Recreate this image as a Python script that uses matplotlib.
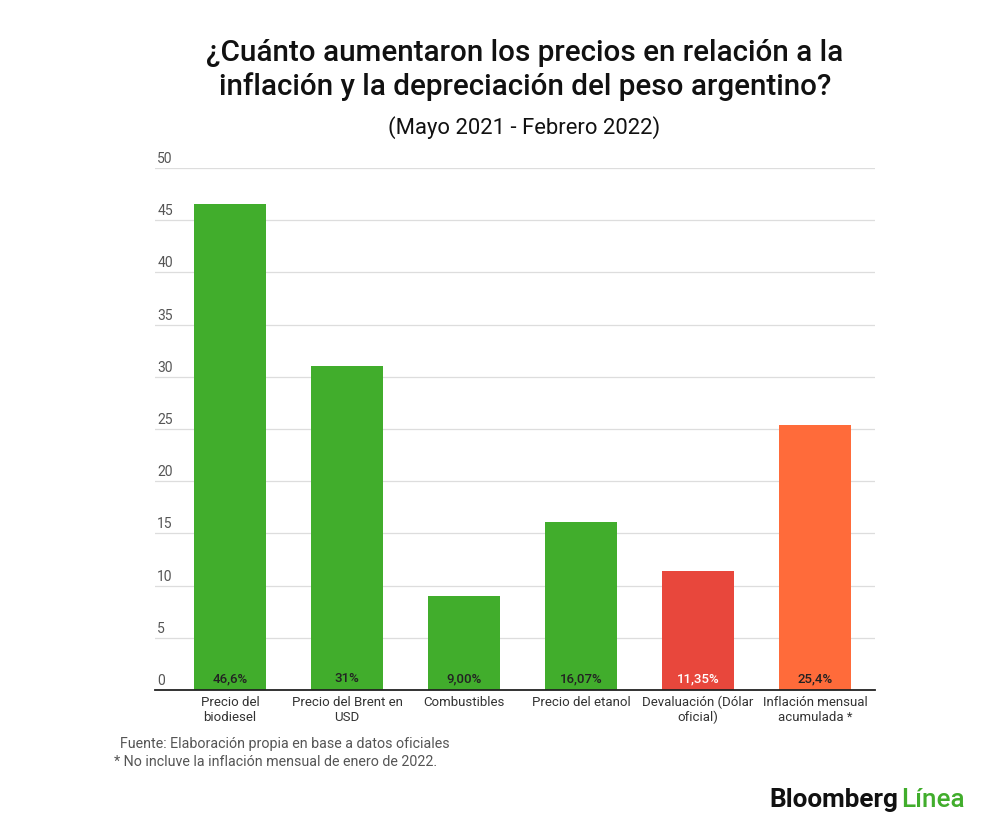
import matplotlib
matplotlib.use("Agg")
import matplotlib.pyplot as plt

# datos
categorias = ["Precio del\nbiodiesel", "Precio del Brent en\nUSD", "Combustibles",
              "Precio del etanol", "Devaluación (Dólar\noficial)", "Inflación mensual\nacumulada *"]
valores = [46.6, 31.0, 9.0, 16.07, 11.35, 25.4]
etiquetas = ["46,6%", "31%", "9,00%", "16,07%", "11,35%", "25,4%"]
colores = ["#41ad2c", "#41ad2c", "#41ad2c", "#41ad2c", "#e8473c", "#ff6b3a"]
color_texto = ["#222222", "#222222", "#222222", "#222222", "#ffffff", "#222222"]
yticks = [0, 5, 10, 15, 20, 25, 30, 35, 40, 45, 50]

plt.rcParams['font.family'] = ['Roboto', 'DejaVu Sans']

fig = plt.figure(figsize=(10, 8.31), dpi=100)
ax = fig.add_axes([0.155, 0.1697, 0.72, 0.6281])

x = list(range(len(valores)))
ax.bar(x, valores, width=0.615, color=colores, zorder=2)

ax.set_xlim(-0.641, 5.513)
ax.set_ylim(0, 50)

# lineas de la grilla + etiquetas por encima
for t in yticks[1:]:
    ax.axhline(t, color="#dddddd", lw=0.9, zorder=1)
for t in yticks:
    ax.text(0.003, t + 0.2, str(t), transform=ax.get_yaxis_transform(),
            ha="left", va="bottom", fontsize=10, color="#555555")

ax.set_yticks([])
ax.set_xticks(x)
ax.set_xticklabels(categorias, fontsize=9.5, color="#333333", linespacing=1.2)
ax.tick_params(axis="x", length=0, pad=4)

for s in ["top", "right", "left"]:
    ax.spines[s].set_visible(False)
ax.spines["bottom"].set_color("#222222")
ax.spines["bottom"].set_linewidth(1.3)
ax.spines["bottom"].set_zorder(3)

# valores dentro de las barras
for i, (lab, c) in enumerate(zip(etiquetas, color_texto)):
    ax.text(i, 0.45, lab, ha="center", va="bottom", fontsize=9.5, color=c,
            fontweight="medium", zorder=4)

fig.text(0.525, 0.916, "¿Cuánto aumentaron los precios en relación a la\ninflación y la depreciación del peso argentino?",
         ha="center", va="center", fontsize=21.3, fontweight="medium", color="#111111", linespacing=1.2)
fig.text(0.524, 0.846, "(Mayo 2021 - Febrero 2022)", ha="center", va="center",
         fontsize=15.8, color="#111111")

fig.text(0.12, 0.105, "Fuente: Elaboración propia en base a datos oficiales",
         ha="left", va="center", fontsize=10.3, color="#555555")
fig.text(0.114, 0.083, "* No incluve la inflación mensual de enero de 2022.",
         ha="left", va="center", fontsize=10.3, color="#555555")

t1 = fig.text(0.769, 0.037, "Bloomberg", ha="left", va="center", fontsize=18.8,
              fontweight="bold", color="#111111")
fig.canvas.draw()
bb = t1.get_window_extent().transformed(fig.transFigure.inverted())
fig.text(bb.x1 + 0.003, 0.037, "Línea", ha="left", va="center", fontsize=18.8,
         fontweight="medium", color="#41ad2c")

fig.savefig("out.png", dpi=100, facecolor="white")
